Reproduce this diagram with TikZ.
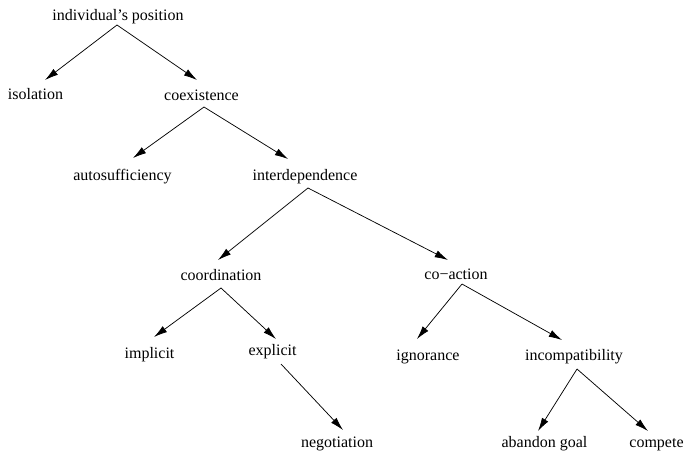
\documentclass[tikz,border=0pt]{standalone}
\usepackage{fontspec}
\setmainfont{Liberation Serif}
\usetikzlibrary{arrows.meta,calc}
\tikzset{
  lbl/.style={anchor=base,inner sep=0pt,font=\fontsize{12}{14}\selectfont},
  arr/.style={-{Latex[length=10pt,width=5.5pt]},line width=0.55pt,black}
}
\begin{document}
\begin{tikzpicture}[x=0.75pt,y=-0.75pt]
\useasboundingbox (0,0) rectangle (684,451);
\node[lbl] (ind) at (118,20) {individual’s position};
\node[lbl] (iso) at (35.5,99) {isolation};
\node[lbl] (coex) at (201.5,100) {coexistence};
\node[lbl] (auto) at (122.5,180) {autosufficiency};
\node[lbl] (inter) at (305,180) {interdependence};
\node[lbl] (coord) at (221,280) {coordination};
\node[lbl] (coact) at (456,279) {co−action};
\node[lbl] (impl) at (149.5,358) {implicit};
\node[lbl] (expl) at (272.5,355) {explicit};
\node[lbl] (ign) at (428,360) {ignorance};
\node[lbl] (incomp) at (574,360) {incompatibility};
\node[lbl] (nego) at (337,447) {negotiation};
\node[lbl] (aband) at (544.5,447) {abandon goal};
\node[lbl] (comp) at (656.5,447) {compete};

\draw[arr] ($(ind.base)+(-1,5)$) -- ($(iso.base)+(9.5,-19)$);
\draw[arr] ($(ind.base)+(-1,5)$) -- ($(coex.base)+(-4.5,-20)$);
\draw[arr] ($(coex.base)+(2.5,7)$) -- ($(auto.base)+(10.5,-22)$);
\draw[arr] ($(coex.base)+(2.5,7)$) -- ($(inter.base)+(-17,-21)$);
\draw[arr] ($(inter.base)+(3,8)$) -- ($(coord.base)+(-3,-20)$);
\draw[arr] ($(inter.base)+(3,8)$) -- ($(coact.base)+(-8,-19)$);
\draw[arr] ($(coord.base)+(0,8)$) -- ($(impl.base)+(4.5,-21)$);
\draw[arr] ($(coord.base)+(0,8)$) -- ($(expl.base)+(3.5,-16)$);
\draw[arr] ($(coact.base)+(6,5)$) -- ($(ign.base)+(-11,-21)$);
\draw[arr] ($(coact.base)+(6,5)$) -- ($(incomp.base)+(-12,-20)$);
\draw[arr] ($(expl.base)+(8.5,9)$) -- ($(nego.base)+(6,-17)$);
\draw[arr] ($(incomp.base)+(3,9)$) -- ($(aband.base)+(-6.5,-16)$);
\draw[arr] ($(incomp.base)+(3,9)$) -- ($(comp.base)+(-8.5,-16)$);
\end{tikzpicture}
\end{document}
